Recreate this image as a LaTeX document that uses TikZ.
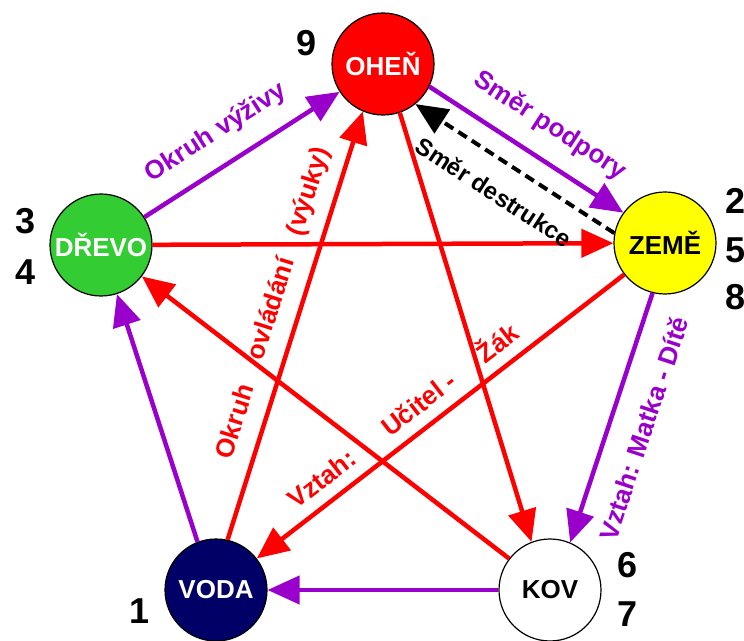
\documentclass[tikz,border=0pt]{standalone}
\usepackage{fontspec}
\setmainfont{Liberation Sans}
\usetikzlibrary{arrows.meta}
\definecolor{Fialova}{RGB}{153,0,204}
\definecolor{Cervena}{RGB}{255,0,0}
\definecolor{Zelena}{RGB}{51,204,51}
\definecolor{Zluta}{RGB}{255,255,0}
\definecolor{Modra}{RGB}{0,0,102}

\begin{document}
\begin{tikzpicture}[x=1pt,y=1pt,
    prvek/.style={circle,draw=black,line width=1.2pt,minimum size=102pt,inner sep=0pt,font=\fontsize{26}{30}\selectfont\bfseries},
    cislo/.style={font=\fontsize{36}{40}\selectfont\bfseries,inner sep=0pt},
    popis/.style={font=\fontsize{26}{30}\selectfont\bfseries,inner sep=0pt},
    sipka/.style={line width=4.5pt,-{Triangle[length=32pt,width=28pt]}}]
  \useasboundingbox (0,0) rectangle (744,640);
  \node[prvek,fill=Cervena,text=white] (ohen) at (383,576) {OHEŇ};
  \node[prvek,fill=Zluta] (zeme) at (665,397) {ZEMĚ};
  \node[prvek,fill=Zelena,text=white] (drevo) at (101,395) {DŘEVO};
  \node[prvek,fill=Modra,text=white] (voda) at (216,50) {VODA};
  \node[prvek,fill=white] (kov) at (550,50) {KOV};
  \node[cislo] (n9) at (307,597) {9};
  \node[cislo] (n3) at (26,419) {3};\node[cislo] (n4) at (26,368) {4};
  \node[cislo] (n2) at (736,439) {2};\node[cislo] (n5) at (736,390) {5};\node[cislo] (n8) at (736,343) {8};
  \node[cislo] (n6) at (628,75) {6};\node[cislo] (n7) at (628,26) {7};
  \node[cislo] (n1) at (140,29) {1};
  \draw[sipka,Cervena] (drevo) -- (zeme);
  \draw[sipka,Cervena] (voda.77) -- node[popis,sloped,above=12.5pt,pos=0.533]{Okruh\hspace{27pt}ovládání\hspace{25pt}(výuky)} (ohen.-113);
  \draw[sipka,Cervena] (ohen.-71) -- (kov.111);
  \draw[sipka,Cervena] (kov) -- (drevo);
  \draw[sipka,Cervena] (zeme) -- node[popis,sloped,above=11.5pt,pos=0.563]{Vztah:\hspace{40pt}Učitel -\hspace{34pt}Žák} (voda);
  \draw[sipka,Fialova] (drevo) -- node[popis,sloped,above=18pt,pos=0.457]{Okruh výživy} (ohen);
  \draw[sipka,Fialova] (ohen.-26) -- node[popis,sloped,above=18pt,pos=0.53]{Směr podpory} (zeme.144);
  \draw[sipka,Fialova] (zeme.-104) -- node[popis,sloped,below=22pt,pos=0.5]{Vztah: Matka - Dítě} (kov.67);
  \draw[sipka,Fialova] (kov) -- (voda);
  \draw[sipka,Fialova] (voda.111) -- (drevo.-72);
  \draw[sipka,black,line width=4pt,dash pattern=on 10pt off 6pt] (zeme.169) -- node[popis,sloped,below=20pt,pos=0.52,font=\fontsize{24}{28}\selectfont\bfseries]{Směr destrukce} (ohen.-51);
\end{tikzpicture}
\end{document}
